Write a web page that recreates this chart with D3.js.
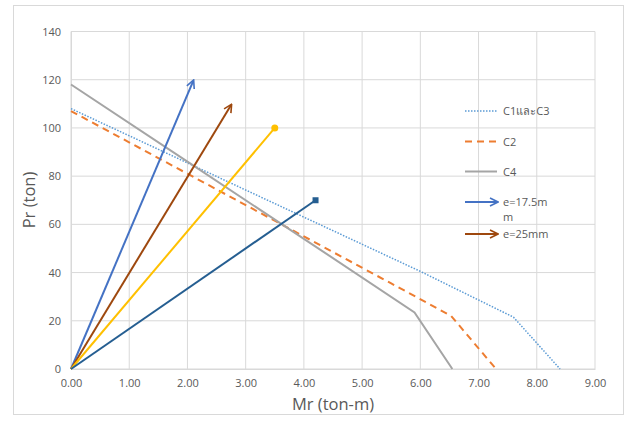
<!DOCTYPE html>
<html>
<head>
<script src="https://cdn.jsdelivr.net/npm/d3@7"></script>
<style>
  body { margin: 0; background: #fff; }
  svg text { font-family: "Open Sans", "Noto Sans", sans-serif; fill: #595959; }
</style>
</head>
<body>
<script>
// interaction curves (Mr ton-m, Pr ton)
var c13M = [0, 2.0, 4.0, 6.0, 7.6, 8.4];
var c13P = [108, 85.5, 63, 40.5, 21.5, 0];
var c2M = [0, 2.0, 4.0, 5.5, 6.53, 7.3];
var c2P = [107, 81, 55, 35.5, 22, 0];
var c4M = [0, 2.0, 4.0, 5.9, 6.55];
var c4P = [118, 86, 54, 23.5, 0];
// load paths from origin
var eNames = ["e=17.5mm", "e=25mm", "yellow", "darkblue"];
var eEndM = [2.1, 2.75, 3.5, 4.2];
var eEndP = [119.5, 109.5, 100, 70];

var xTicks = [0, 1, 2, 3, 4, 5, 6, 7, 8, 9];
var yTicks = [0, 20, 40, 60, 80, 100, 120, 140];

var W = 627, H = 421;
var svg = d3.select("body").append("svg").attr("width", W).attr("height", H);

svg.append("rect").attr("x", 13.5).attr("y", 5.5).attr("width", 610).attr("height", 409)
  .attr("fill", "#fff").attr("stroke", "#d9d9d9");

var x = d3.scaleLinear().domain([0, 9]).range([71, 595]);
var y = d3.scaleLinear().domain([0, 140]).range([369, 31.5]);

// grid
svg.append("g").selectAll("line").data(xTicks).enter().append("line")
  .attr("x1", d => x(d)).attr("x2", d => x(d)).attr("y1", y(0)).attr("y2", y(140))
  .attr("stroke", "#d9d9d9").attr("stroke-width", 1);
svg.append("g").selectAll("line").data(yTicks).enter().append("line")
  .attr("x1", x(0)).attr("x2", x(9)).attr("y1", d => y(d)).attr("y2", d => y(d))
  .attr("stroke", "#d9d9d9").attr("stroke-width", 1);

// axes labels
var xAxis = svg.append("g").attr("transform", "translate(0," + y(0) + ")")
  .call(d3.axisBottom(x).tickValues(xTicks).tickFormat(d3.format(".2f")).tickSize(0).tickPadding(10));
xAxis.select(".domain").attr("stroke", "#d9d9d9");
xAxis.selectAll("text").attr("font-size", 11).attr("fill", "#595959");

var yAxis = svg.append("g").attr("transform", "translate(" + x(0) + ",0)")
  .call(d3.axisLeft(y).tickValues(yTicks).tickSize(0).tickPadding(10));
yAxis.select(".domain").attr("stroke", "#d9d9d9");
yAxis.selectAll("text").attr("font-size", 11).attr("fill", "#595959");

svg.append("text").attr("x", 333).attr("y", 410).attr("text-anchor", "middle")
  .attr("font-size", 16.5).text("Mr (ton-m)");
svg.append("text").attr("transform", "translate(35,200) rotate(-90)").attr("text-anchor", "middle")
  .attr("font-size", 16.5).text("Pr (ton)");

var defs = svg.append("defs");
function arrow(id, color) {
  defs.append("marker").attr("id", id).attr("viewBox", "0 0 10 10")
    .attr("refX", 8).attr("refY", 5).attr("markerWidth", 5).attr("markerHeight", 5)
    .attr("orient", "auto").attr("markerUnits", "strokeWidth")
    .append("path").attr("d", "M1,1 L9,5 L1,9").attr("fill", "none")
    .attr("stroke", color).attr("stroke-width", 1.6);
}
arrow("arrBlue", "#4472c4");
arrow("arrBrown", "#9e480e");

var line = d3.line().x(d => x(d[0])).y(d => y(d[1]));

svg.append("path").datum(d3.zip(c13M, c13P)).attr("d", line).attr("fill", "none")
  .attr("stroke", "#5b9bd5").attr("stroke-width", 1.5).attr("stroke-dasharray", "1.5,1.5");
svg.append("path").datum(d3.zip(c2M, c2P)).attr("d", line).attr("fill", "none")
  .attr("stroke", "#ed7d31").attr("stroke-width", 2).attr("stroke-dasharray", "7,5");
svg.append("path").datum(d3.zip(c4M, c4P)).attr("d", line).attr("fill", "none")
  .attr("stroke", "#a5a5a5").attr("stroke-width", 2);

var eColors = ["#4472c4", "#9e480e", "#ffc000", "#255e91"];
var eMarker = ["url(#arrBlue)", "url(#arrBrown)", null, null];
eNames.forEach(function (n, i) {
  var p = svg.append("path").datum([[0, 0], [eEndM[i], eEndP[i]]]).attr("d", line)
    .attr("fill", "none").attr("stroke", eColors[i]).attr("stroke-width", 2);
  if (eMarker[i]) p.attr("marker-end", eMarker[i]);
});
svg.append("circle").attr("cx", x(eEndM[2])).attr("cy", y(eEndP[2])).attr("r", 3.5).attr("fill", "#ffc000");
svg.append("rect").attr("x", x(eEndM[3]) - 3).attr("y", y(eEndP[3]) - 3).attr("width", 6).attr("height", 6)
  .attr("fill", "#255e91");

// legend
var lg = svg.append("g");
var lx1 = 465, lx2 = 497, tx = 503;
lg.append("line").attr("x1", lx1).attr("x2", lx2).attr("y1", 111).attr("y2", 111)
  .attr("stroke", "#5b9bd5").attr("stroke-width", 1.5).attr("stroke-dasharray", "1.5,1.5");
lg.append("text").attr("x", tx).attr("y", 115).attr("font-size", 11).text("C1และC3");
lg.append("line").attr("x1", lx1).attr("x2", lx2).attr("y1", 141.5).attr("y2", 141.5)
  .attr("stroke", "#ed7d31").attr("stroke-width", 2).attr("stroke-dasharray", "7,5");
lg.append("text").attr("x", tx).attr("y", 145.5).attr("font-size", 11).text("C2");
lg.append("line").attr("x1", lx1).attr("x2", lx2).attr("y1", 171.5).attr("y2", 171.5)
  .attr("stroke", "#a5a5a5").attr("stroke-width", 2);
lg.append("text").attr("x", tx).attr("y", 175.5).attr("font-size", 11).text("C4");
lg.append("line").attr("x1", lx1).attr("x2", lx2).attr("y1", 202).attr("y2", 202)
  .attr("stroke", "#4472c4").attr("stroke-width", 2).attr("marker-end", "url(#arrBlue)");
lg.append("text").attr("x", tx).attr("y", 206).attr("font-size", 11).text("e=17.5m");
lg.append("text").attr("x", tx).attr("y", 221).attr("font-size", 11).text("m");
lg.append("line").attr("x1", lx1).attr("x2", lx2).attr("y1", 234).attr("y2", 234)
  .attr("stroke", "#9e480e").attr("stroke-width", 2).attr("marker-end", "url(#arrBrown)");
lg.append("text").attr("x", tx).attr("y", 238).attr("font-size", 11).text("e=25mm");
</script>
</body>
</html>
